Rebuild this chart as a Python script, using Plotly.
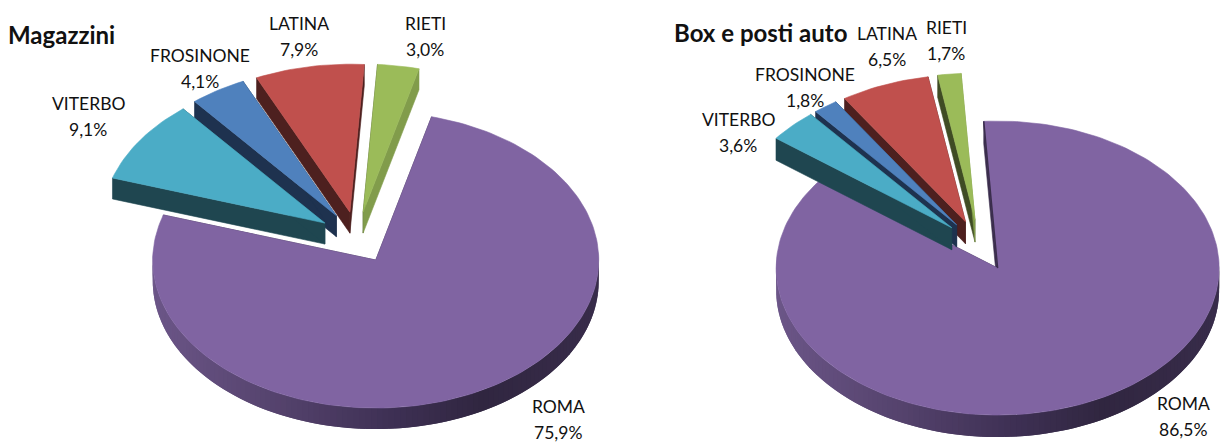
import math
import plotly.graph_objects as go

CATEGORIES = ["ROMA", "VITERBO", "FROSINONE", "LATINA", "RIETI"]
MAGAZZINI_VALUES = [75.9, 9.1, 4.1, 7.9, 3.0]
BOX_VALUES = [86.5, 3.6, 1.8, 6.5, 1.7]
MAGAZZINI_LABELS = ["75,9%", "9,1%", "4,1%", "7,9%", "3,0%"]
BOX_LABELS = ["86,5%", "3,6%", "1,8%", "6,5%", "1,7%"]
TITLES = ["Magazzini", "Box e posti auto"]

TOP = {"ROMA": "#8064A2", "VITERBO": "#4BACC6", "FROSINONE": "#4F81BD", "LATINA": "#C0504D", "RIETI": "#9BBB59"}
WALL_A = {"ROMA": "#3a2d4c", "VITERBO": "#1F4650", "FROSINONE": "#1E324F", "LATINA": "#4D201F", "RIETI": "#3F4C24"}
WALL_B = {"ROMA": "#3a2d4c", "VITERBO": "#1F4650", "FROSINONE": "#1E324F", "LATINA": "#4D201F", "RIETI": "#819C4B"}
FONT = "Lato"
EXPLODE = 0.174

fig = go.Figure()


def poly(xs, ys, color, line=0.6):
    fig.add_trace(go.Scatter(x=xs, y=ys, mode="lines", fill="toself", fillcolor=color,
                             line=dict(color=color, width=line), hoverinfo="skip", showlegend=False))


def lerp_hex(stops, f):
    for (f0, c0), (f1, c1) in zip(stops, stops[1:]):
        if f <= f1:
            u = (f - f0) / (f1 - f0)
            return "rgb(%d,%d,%d)" % tuple(round(a + (b - a) * u) for a, b in zip(c0, c1))
    return "rgb(%d,%d,%d)" % stops[-1][1]


SIDE_STOPS = [(0.0, (108, 86, 136)), (0.3, (84, 66, 108)), (0.55, (62, 48, 84)),
              (0.75, (48, 38, 64)), (1.0, (56, 44, 74))]


def pie(values, cx0, cy0, rx, ry, depth, start, sliver):
    total = sum(values)
    spans = []
    a = start
    for v in values:
        b = a + 360.0 * v / total
        spans.append((a, b))
        a = b

    def pt(cx, cy, t):
        r = math.radians(t)
        return cx + rx * math.sin(r), cy - ry * math.cos(r)

    # Back slices first, so the left-most exploded slice sits on top.
    for i in [0, 4, 3, 2, 1]:
        name = CATEGORIES[i]
        a, b = spans[i]
        m = math.radians((a + b) / 2)
        cx = cx0 + EXPLODE * rx * math.sin(m)
        cy = cy0 - EXPLODE * ry * math.cos(m)
        n = max(4, int((b - a) / 1.5))
        ts = [a + (b - a) * k / n for k in range(n + 1)]
        arc = [pt(cx, cy, t) for t in ts]

        # Straight walls of the wedge
        for t, col in ((a, WALL_A[name]), (b, WALL_B[name])):
            ox, oy = pt(cx, cy, t)
            poly([cx, ox, ox, cx, cx], [cy, oy, oy + depth, cy + depth, cy], col)

        # Curved rim on the near side of the pie; each piece overlaps the next one
        for k in range(n - 1, -1, -1):
            t0, t1 = ts[k], ts[k + 1]
            if math.cos(math.radians((t0 + t1) / 2)) < 0.05:
                x0, y0 = arc[k]
                x1, y1 = arc[min(k + 2, n)]
                f = ((x0 + arc[k + 1][0]) / 2 - (cx - rx)) / (2 * rx)
                col = lerp_hex(SIDE_STOPS, f) if i == 0 else WALL_A[name]
                fig.add_trace(go.Scatter(x=[x0, x1, x1, x0, x0], y=[y0, y1, y1 + depth, y0 + depth, y0],
                                         mode="none", fill="toself", fillcolor=col,
                                         hoverinfo="skip", showlegend=False))

        xs = [cx] + [p[0] for p in arc] + [cx]
        ys = [cy] + [p[1] for p in arc] + [cy]
        poly(xs, ys, TOP[name])

        if i == 0 and sliver:
            ox, oy = pt(cx, cy, a)
            fig.add_trace(go.Scatter(x=[ox, cx], y=[oy, cy], mode="lines",
                                     line=dict(color="#3a2d4c", width=1.5),
                                     hoverinfo="skip", showlegend=False))


pie(MAGAZZINI_VALUES, 357, 237.5, 223, 148, 21, 14.5, False)
pie(BOX_VALUES, 979.5, 245.5, 221.5, 147, 22, -3.6, True)


def text(x, y, s, size=17.5, bold=False, anchor="center"):
    fig.add_annotation(x=x, y=y, text=f"<b>{s}</b>" if bold else s, showarrow=False,
                       xanchor=anchor, yanchor="middle", xref="x", yref="y",
                       font=dict(family=FONT, size=size, color="#111111"))


LEFT_POS = [(558, 406), (88, 103), (200, 55), (299, 23), (425, 23)]
RIGHT_POS = [(1183, 403), (738, 119), (805, 74), (887, 33), (946, 27)]
for names, labels, pos in ((CATEGORIES, MAGAZZINI_LABELS, LEFT_POS), (CATEGORIES, BOX_LABELS, RIGHT_POS)):
    for n, l, (x, y) in zip(names, labels, pos):
        text(x, y, n)
        text(x, y + 26, l)

text(6, 34, TITLES[0], size=24, bold=True, anchor="left")
text(672, 32, TITLES[1], size=24, bold=True, anchor="left")

fig.update_layout(
    width=1221, height=442, margin=dict(l=0, r=0, t=0, b=0),
    paper_bgcolor="white", plot_bgcolor="white", showlegend=False,
    xaxis=dict(range=[0, 1221], visible=False, fixedrange=True),
    yaxis=dict(range=[442, 0], visible=False, fixedrange=True),
)
fig.write_html("out.html", config={"displayModeBar": False},
               post_script="document.body.style.margin='0';document.documentElement.style.overflow='hidden';")
